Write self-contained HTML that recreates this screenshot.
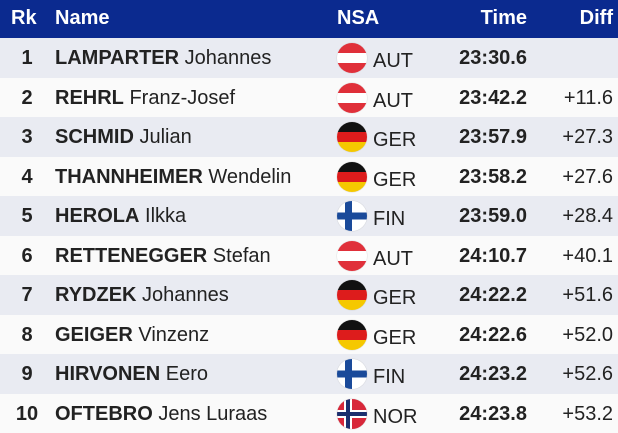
<!DOCTYPE html>
<html><head><meta charset="utf-8"><style>
body{margin:0;width:618px;height:433px;overflow:hidden;font-family:"Liberation Sans",Arial,sans-serif;background:#fff;color:#222}
.h{position:absolute;left:0;top:0;width:618px;height:38px;background:#0b2a8f;color:#fff;font-weight:bold;font-size:20px}
.h div,.r div{position:absolute;white-space:nowrap}
.r{position:absolute;left:0;width:618px;height:39.5px;font-size:20px}
.f{width:30px;height:30px;border-radius:50%;overflow:hidden;left:337px;top:5px;box-shadow:0 0 1px #aaa}
</style></head><body>
<div class="h">
<div style="left:11px;top:7px">Rk</div>
<div style="left:55px;top:7px">Name</div>
<div style="left:337px;top:7px">NSA</div>
<div style="right:91px;top:7px">Time</div>
<div style="right:5px;top:7px">Diff</div>
</div>
<div id="rows"></div>
<script>
const d=[["LAMPARTER","Johannes","AUT","23:30.6",""],["REHRL","Franz-Josef","AUT","23:42.2","+11.6"],["SCHMID","Julian","GER","23:57.9","+27.3"],["THANNHEIMER","Wendelin","GER","23:58.2","+27.6"],["HEROLA","Ilkka","FIN","23:59.0","+28.4"],["RETTENEGGER","Stefan","AUT","24:10.7","+40.1"],["RYDZEK","Johannes","GER","24:22.2","+51.6"],["GEIGER","Vinzenz","GER","24:22.6","+52.0"],["HIRVONEN","Eero","FIN","24:23.2","+52.6"],["OFTEBRO","Jens Luraas","NOR","24:23.8","+53.2"]];
const fl={AUT:"linear-gradient(#e0303a 0 33%,#fff 33% 67%,#e0303a 67%)",GER:"linear-gradient(#111 0 33%,#dd1c1c 33% 67%,#f5c800 67%)",FIN:"linear-gradient(#fff 0 38%,#1a4a9a 38% 62%,#fff 62%)",NOR:"#d8283a"};
let h='';d.forEach((r,i)=>{let f=fl[r[2]],extra='';
if(r[2]=='FIN')extra='<div style="position:absolute;left:8px;top:0;width:7px;height:30px;background:#1a4a9a"></div>';
if(r[2]=='NOR')extra='<div style="position:absolute;left:0;top:11px;width:30px;height:8px;background:#fff"></div><div style="position:absolute;left:7px;top:0;width:8px;height:30px;background:#fff"></div><div style="position:absolute;left:0;top:13px;width:30px;height:4px;background:#1c2f6e"></div><div style="position:absolute;left:9px;top:0;width:4px;height:30px;background:#1c2f6e"></div>';
const bg=(i%2===0)?'#e9ebf2':'#fafafa';
h+=`<div class="r" style="top:${38+i*39.5}px;background:${bg}"><div style="left:0;width:54px;text-align:center;top:9px;font-weight:bold">${i+1}</div><div style="left:55px;top:9px"><b>${r[0]}</b> ${r[1]}</div><div class="f" style="background:${f}">${extra}</div><div style="left:373px;top:12px">${r[2]}</div><div style="right:91px;top:9px;font-weight:bold">${r[3]}</div><div style="right:5px;top:9px">${r[4]}</div></div>`});
document.getElementById('rows').outerHTML=h;
</script>
</body></html>
